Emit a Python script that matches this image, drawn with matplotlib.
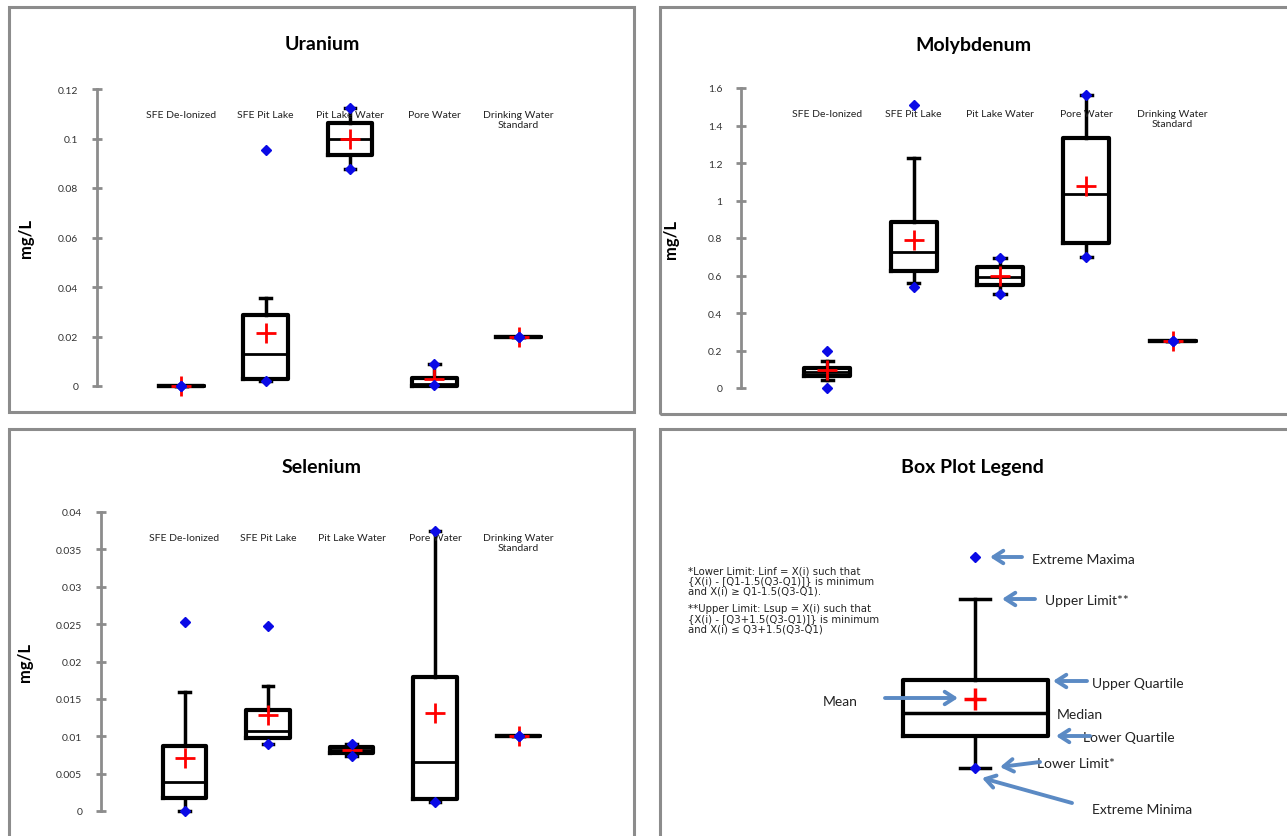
import matplotlib
matplotlib.use('Agg')
import matplotlib.pyplot as plt
from matplotlib.patches import Rectangle

plt.rcParams['font.family'] = ['Lato', 'DejaVu Sans']

W, H = 1287, 837

categories = ['SFE De-Ionized', 'SFE Pit Lake', 'Pit Lake Water',
              'Pore Water', 'Drinking Water\nStandard']

# uranium (mg/L)
u_min = [0.0, 0.002, 0.0877, 0.0004, 0.02]
u_low = [0.0, 0.002, 0.0877, 0.0004, 0.02]
u_q1 = [0.0, 0.003, 0.0934, 0.0, 0.02]
u_med = [0.0, 0.013, 0.0999, 0.001, 0.02]
u_q3 = [0.0, 0.0285, 0.1064, 0.0033, 0.02]
u_up = [0.0, 0.0357, 0.1125, 0.0089, 0.02]
u_max = [0.0, 0.0954, 0.1125, 0.0089, 0.02]
u_mean = [0.0, 0.0215, 0.1, 0.003, 0.02]
u_ticks = [0, 0.02, 0.04, 0.06, 0.08, 0.1, 0.12]

# molybdenum (mg/L)
mo_min = [0.0, 0.54, 0.503, 0.70, 0.25]
mo_low = [0.043, 0.56, 0.503, 0.70, 0.25]
mo_q1 = [0.064, 0.626, 0.551, 0.776, 0.25]
mo_med = [0.085, 0.728, 0.594, 1.033, 0.25]
mo_q3 = [0.107, 0.888, 0.647, 1.332, 0.25]
mo_up = [0.145, 1.225, 0.695, 1.562, 0.25]
mo_max = [0.195, 1.509, 0.695, 1.562, 0.25]
mo_mean = [0.096, 0.792, 0.6, 1.076, 0.25]
mo_ticks = [0, 0.2, 0.4, 0.6, 0.8, 1, 1.2, 1.4, 1.6]

# selenium (mg/L)
se_min = [0.0, 0.009, 0.0073, 0.0012, 0.01]
se_low = [0.0, 0.009, 0.0073, 0.0012, 0.01]
se_q1 = [0.00175, 0.0097, 0.0077, 0.0016, 0.01]
se_med = [0.0039, 0.0107, 0.0081, 0.0066, 0.01]
se_q3 = [0.00876, 0.0135, 0.0085, 0.0179, 0.01]
se_up = [0.0159, 0.0167, 0.0089, 0.0375, 0.01]
se_max = [0.0253, 0.0248, 0.0089, 0.0375, 0.01]
se_mean = [0.00714, 0.0128, 0.0081, 0.0131, 0.01]
se_ticks = [0, 0.005, 0.01, 0.015, 0.02, 0.025, 0.03, 0.035, 0.04]

# schematic box for the legend panel
leg_stats = {'whislo': 769, 'q1': 737, 'med': 714, 'q3': 681,
             'whishi': 600, 'mean': 700}
leg_min = 769
leg_max = 558

gray = '#8c8c8c'
arrow_c = '#5b8ac4'
blue = '#0a0ae6'


def px_axes(fig, left, right, top, bottom):
    return fig.add_axes([left / W, (H - bottom) / H,
                         (right - left) / W, (bottom - top) / H])


def draw_boxes(ax, mins, lows, q1s, meds, q3s, ups, maxs, means,
               pos, width, capw):
    stats = []
    for i in range(len(meds)):
        stats.append({'whislo': lows[i], 'q1': q1s[i], 'med': meds[i],
                      'q3': q3s[i], 'whishi': ups[i], 'mean': means[i],
                      'fliers': []})
    ax.bxp(stats, positions=pos, widths=width, capwidths=capw,
           showmeans=True, showfliers=False, manage_ticks=False,
           boxprops=dict(color='black', lw=3),
           medianprops=dict(color='black', lw=2),
           whiskerprops=dict(color='black', lw=2.5),
           capprops=dict(color='black', lw=2.5),
           meanprops=dict(marker='+', markeredgecolor='red',
                          markersize=14, markeredgewidth=2))
    ax.plot(pos, maxs, 'D', color=blue, ms=5, zorder=5)
    ax.plot(pos, mins, 'D', color=blue, ms=5, zorder=5)
    for a in ax.lines + ax.patches:
        a.set_clip_on(False)


def style_axes(ax, ticks, ymax):
    ax.set_xlim(0, 6)
    ax.set_ylim(0, ymax)
    for s in ['top', 'right', 'bottom']:
        ax.spines[s].set_visible(False)
    ax.spines['left'].set_color(gray)
    ax.spines['left'].set_linewidth(2)
    ax.set_xticks([])
    ax.set_yticks(ticks)
    ax.set_yticklabels([('%g' % t) for t in ticks])
    ax.tick_params(axis='y', direction='inout', length=7, width=2,
                   color=gray, labelsize=7.5, labelcolor='#333333', pad=10)
    for i, c in enumerate(categories):
        ax.text(i + 1, 0.93, c, transform=ax.get_xaxis_transform(),
                ha='center', va='top', fontsize=7.5, color='#222222')
    ax.set_ylabel('mg/L', fontsize=12, fontweight='bold')
    ax.patch.set_alpha(0)


fig = plt.figure(figsize=(W / 100, H / 100), dpi=100)

# panel frames
frames = [(9, 634, 8, 413), (660, 1300, 8, 415),
          (9, 634, 430, 850), (660, 1300, 430, 850)]
for l, r, t, b in frames:
    fig.add_artist(Rectangle((l / W, (H - b) / H), (r - l) / W, (b - t) / H,
                             transform=fig.transFigure, fill=False,
                             ec=gray, lw=2.2))

pos = [1, 2, 3, 4, 5]

ax1 = px_axes(fig, 97, 603, 90, 387)
draw_boxes(ax1, u_min, u_low, u_q1, u_med, u_q3, u_up, u_max, u_mean,
           pos, 0.53, 0.13)
style_axes(ax1, u_ticks, 0.12)
ax1.yaxis.set_label_coords(-0.125, 0.5)

ax2 = px_axes(fig, 741, 1259, 89, 389)
draw_boxes(ax2, mo_min, mo_low, mo_q1, mo_med, mo_q3, mo_up, mo_max, mo_mean,
           pos, 0.53, 0.13)
style_axes(ax2, mo_ticks, 1.6)
ax2.yaxis.set_label_coords(-0.12, 0.5)

ax3 = px_axes(fig, 101, 602, 513, 812)
draw_boxes(ax3, se_min, se_low, se_q1, se_med, se_q3, se_up, se_max, se_mean,
           pos, 0.52, 0.13)
style_axes(ax3, se_ticks, 0.04)
ax3.yaxis.set_label_coords(-0.135, 0.5)

fig.text(322 / W, 1 - 45 / H, 'Uranium', ha='center', va='center',
         fontsize=14, fontweight='bold')
fig.text(973 / W, 1 - 45 / H, 'Molybdenum', ha='center', va='center',
         fontsize=14, fontweight='bold')
fig.text(322 / W, 1 - 468 / H, 'Selenium', ha='center', va='center',
         fontsize=14, fontweight='bold')
fig.text(972 / W, 1 - 468 / H, 'Box Plot Legend', ha='center', va='center',
         fontsize=14, fontweight='bold')

# legend panel, drawn in pixel coordinates
ax4 = px_axes(fig, 660, 1287, 430, 837)
ax4.set_xlim(660, 1287)
ax4.set_ylim(837, 430)
ax4.axis('off')
leg = dict(leg_stats)
leg['fliers'] = []
ax4.bxp([leg], positions=[975], widths=145, capwidths=30,
        showmeans=True, showfliers=False, manage_ticks=False,
        boxprops=dict(color='black', lw=3),
        medianprops=dict(color='black', lw=2.5),
        whiskerprops=dict(color='black', lw=2.5),
        capprops=dict(color='black', lw=2.5),
        meanprops=dict(marker='+', markeredgecolor='red',
                       markersize=16, markeredgewidth=2.5))
ax4.plot([975, 975], [leg_min, leg_max], 'D', color=blue, ms=5, zorder=5)

arrows = [
    ((990, 558), (1022, 558), 'Extreme Maxima', (1032, 560)),
    ((1002, 600), (1035, 600), 'Upper Limit**', (1045, 601)),
    ((1053, 682), (1087, 682), 'Upper Quartile', (1092, 684)),
    ((1056, 737), (1090, 737), 'Lower Quartile', (1083, 738)),
    ((1000, 768), (1040, 763), 'Lower Limit*', (1037, 764)),
    ((982, 779), (1072, 804), 'Extreme Minima', (1092, 810)),
    ((958, 699), (885, 699), 'Mean', (823, 702)),
]
for head, tail, label, tpos in arrows:
    ax4.annotate('', xy=head, xytext=tail,
                 arrowprops=dict(arrowstyle='->,head_length=0.7,head_width=0.45',
                                 color=arrow_c, lw=2.8, shrinkA=0, shrinkB=0))
    ax4.text(tpos[0], tpos[1], label, ha='left', va='center', fontsize=10,
             color='#222222', zorder=1)
ax4.text(1057, 715, 'Median', ha='left', va='center', fontsize=10,
         color='#222222')

note1 = ('*Lower Limit: Linf = X(i) such that\n'
         '{X(i) - [Q1-1.5(Q3-Q1)]} is minimum\n'
         'and X(i) \u2265 Q1-1.5(Q3-Q1).')
note2 = ('**Upper Limit: Lsup = X(i) such that\n'
         '{X(i) - [Q3+1.5(Q3-Q1)]} is minimum\n'
         'and X(i) \u2264 Q3+1.5(Q3-Q1)')
ax4.text(688, 566, note1, ha='left', va='top', fontsize=7.3,
         family='DejaVu Sans', linespacing=1.05, color='#222222')
ax4.text(688, 604, note2, ha='left', va='top', fontsize=7.3,
         family='DejaVu Sans', linespacing=1.05, color='#222222')

fig.savefig('out.png', dpi=100)
